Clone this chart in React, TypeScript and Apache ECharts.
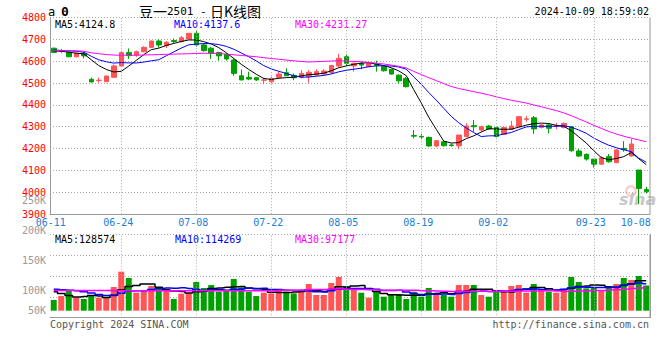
import React, { useEffect, useRef } from "react";
import * as echarts from "echarts";

const dates = [
  "06-11","06-12","06-13","06-14","06-17","06-18","06-19","06-20","06-21",
  "06-24","06-25","06-26","06-27","06-28",
  "07-01","07-02","07-03","07-04","07-05",
  "07-08","07-09","07-10","07-11","07-12",
  "07-15","07-16","07-17","07-18","07-19",
  "07-22","07-23","07-24","07-25","07-26",
  "07-29","07-30","07-31","08-01","08-02",
  "08-05","08-06","08-07","08-08","08-09",
  "08-12","08-13","08-14","08-15","08-16",
  "08-19","08-20","08-21","08-22","08-23",
  "08-26","08-27","08-28","08-29","08-30",
  "09-02","09-03","09-04","09-05","09-06",
  "09-09","09-10","09-11","09-12","09-13",
  "09-18","09-19","09-20",
  "09-23","09-24","09-25","09-26","09-27",
  "09-30","10-08","10-09",
];

const labelDates = ["06-11","06-24","07-08","07-22","08-05","08-19","09-02","09-23","10-08"];
const gridDates = ["06-24","07-08","07-22","08-05","08-19","09-02","09-23"];

const opens = [4659,4645,4640,4620,4635,4517,4511,4506,4526,4578,
4639,4628,4643,4663,4692,4671,4694,4689,4701,4727,
4674,4659,4639,4631,4605,4533,4526,4524,4513,4506,
4526,4547,4535,4526,4529,4537,4541,4548,4578,4620,
4578,4590,4575,4587,4575,4562,4536,4521,4260,4256,
4251,4212,4231,4217,4213,4255,4305,4285,4303,4296,
4265,4288,4300,4334,4341,4297,4308,4303,4297,4300,
4189,4174,4152,4129,4163,4136,4201,4166,4102,4013];

const closes = [4640,4647,4620,4636,4624,4505,4513,4532,4578,4639,
4625,4643,4663,4692,4674,4686,4690,4707,4727,4674,
4648,4636,4624,4610,4544,4514,4518,4514,4514,4521,
4541,4533,4524,4544,4549,4552,4555,4580,4613,4590,
4590,4582,4590,4580,4556,4541,4510,4483,4257,4253,
4212,4236,4213,4214,4262,4303,4300,4300,4290,4255,
4296,4303,4346,4336,4290,4308,4293,4305,4315,4190,
4166,4152,4129,4158,4140,4194,4196,4221,4018,4003];

const lows = [4637,4636,4618,4617,4613,4502,4502,4505,4524,4576,
4610,4620,4640,4660,4662,4660,4682,4686,4700,4666,
4643,4610,4602,4602,4533,4513,4513,4510,4494,4498,
4521,4533,4513,4521,4501,4534,4538,4541,4572,4575,
4552,4563,4572,4552,4552,4538,4498,4480,4247,4242,
4209,4206,4210,4209,4197,4252,4277,4278,4286,4252,
4262,4286,4298,4323,4267,4292,4270,4288,4292,4186,
4162,4145,4113,4125,4136,4133,4186,4163,3946,3995];

const highs = [4662,4656,4645,4640,4643,4525,4525,4533,4585,4648,
4658,4648,4668,4694,4699,4692,4704,4715,4729,4738,
4681,4666,4643,4636,4613,4562,4552,4528,4524,4529,
4552,4567,4544,4559,4559,4563,4563,4583,4633,4633,
4593,4597,4594,4602,4580,4566,4540,4528,4285,4267,
4255,4239,4234,4224,4262,4316,4331,4305,4308,4300,
4298,4327,4349,4349,4349,4312,4315,4318,4320,4300,
4198,4178,4152,4165,4175,4198,4234,4244,4102,4025];

const volumes = [44900,61700,87000,54700,49100,66000,54700,54700,99600,164200,
137500,75800,82800,103800,94000,82800,49100,71600,73000,120700,
95400,108100,80000,87000,133300,98200,80000,61700,75800,73000,
89800,80000,73000,87000,112300,66000,66000,116500,141700,103800,
89800,75800,54700,80000,58900,66000,70200,49100,80000,58900,
95400,75800,66000,58900,108100,108100,108100,66000,58900,80000,
87000,103800,108100,75800,112300,87000,80000,75800,89800,141700,
120700,94000,96800,82800,103800,112300,137500,129100,145900,106000];

// moving-average values before a full window exists
const ma5Head = [4647, 4645, 4641, 4636];
const ma10Head = [4651, 4649, 4647, 4645, 4641, 4622, 4606, 4597, 4591];
const ma30Head = [4648,4648,4648,4647,4645,4638,4634,4630,4628,4627,4627,4627,4628,4629,4630,
  4631,4632,4633,4634,4635,4636,4636,4635,4632,4629,4626,4623,4620,4616];
const volMa5Head = [80000, 72000, 64000, 58000];
const volMa10Head = [90000, 88000, 86000, 84000, 80000, 74000, 68000, 64000, 64000];
const volMa30Head = [85000,85000,85000,85000,85000,85000,85000,84500,84500,84000,84000,84000,84000,84000,84000,
  84000,84000,84000,84000,84000,84000,84000,84000,84000,84000,84000,84000,84000,84000];

const priceLegend = ["MA5:4124.8", "MA10:4137.6", "MA30:4231.27"];
const volLegend = ["MA5:128574", "MA10:114269", "MA30:97177"];
const volTickLabels = ["250K", "200K", "150K", "100K", "50K"];

const RED = "#ff5555";
const GREEN = "#00a000";
const MONO = "'DejaVu Sans Mono', monospace";
const CJK = "'Noto Sans CJK SC', sans-serif";

function movingAvg(values: number[], n: number, head: number[]) {
  return values.map((_, i) => {
    if (i < n - 1) return head[i];
    let s = 0;
    for (let j = i - n + 1; j <= i; j++) s += values[j];
    return Math.round((s / n) * 100) / 100;
  });
}

export default function App() {
  const ref = useRef<HTMLDivElement>(null);
  useEffect(() => {
    if (!ref.current) return;
    const chart = echarts.init(ref.current, null, { renderer: "svg" });
    const candleData = dates.map((_, i) => [opens[i], closes[i], lows[i], highs[i]]);
    const volData = volumes.map((v, i) => ({
      value: v,
      itemStyle: { color: closes[i] >= opens[i] ? RED : GREEN },
    }));
    const dotted = { color: "#aaa", type: [1, 2] as any, width: 1 };
    const axisLineStyle = { color: "#999", width: 1 };
    const vMark = {
      silent: true,
      symbol: ["none", "none"],
      label: { show: false },
      lineStyle: dotted,
      emphasis: { disabled: true },
      data: gridDates.map((d) => ({ xAxis: d })),
    };
    const T = (text: string, x: number, y: number, fill: string, font: string, align = "left") => ({
      type: "text",
      x,
      y,
      silent: true,
      style: { text, fill, font, align, verticalAlign: "middle", textAlign: align, textVerticalAlign: "middle" },
    });
    const font10 = `10px ${MONO}`;
    const option: any = {
      animation: false,
      backgroundColor: "#fff",
      grid: [
        { left: 50, top: 17.4, width: 600, height: 196.8 },
        { left: 50, top: 234.3, width: 600, height: 83.4 },
      ],
      xAxis: [
        {
          type: "category",
          data: dates,
          gridIndex: 0,
          boundaryGap: true,
          axisLine: { onZero: false, lineStyle: axisLineStyle },
          axisTick: { show: false },
          splitLine: { show: false },
          axisLabel: {
            interval: (i: number) => labelDates.indexOf(dates[i]) >= 0,
            color: "#1a80d6",
            fontSize: 10,
            fontFamily: MONO,
            margin: 3,
            padding: [0, 6, 0, 0],
          },
        },
        {
          type: "category",
          data: dates,
          gridIndex: 1,
          boundaryGap: true,
          axisLine: { onZero: false, lineStyle: axisLineStyle },
          axisTick: { show: false },
          axisLabel: { show: false },
          splitLine: { show: false },
        },
      ],
      yAxis: [
        {
          type: "value",
          gridIndex: 0,
          min: 3900,
          max: 4800,
          interval: 100,
          axisLine: { show: true, lineStyle: axisLineStyle },
          axisTick: { show: false },
          axisLabel: {
            color: "#ff0000",
            fontSize: 10,
            fontFamily: MONO,
            margin: 4,
            formatter: (v: number) => String(v),
          },
          splitLine: { show: true, lineStyle: dotted },
        },
        {
          type: "value",
          gridIndex: 1,
          min: -29500,
          max: 321500,
          show: false,
          splitLine: { show: false },
        },
        {
          type: "value",
          gridIndex: 1,
          min: 0,
          max: 4,
          interval: 1,
          axisLine: { show: true, lineStyle: axisLineStyle },
          axisTick: { show: false },
          axisLabel: { show: false },
          splitLine: { show: true, lineStyle: dotted },
        },
      ],
      series: [
        {
          type: "candlestick",
          xAxisIndex: 0,
          yAxisIndex: 0,
          data: candleData,
          barWidth: 5,
          itemStyle: { color: RED, color0: GREEN, borderColor: RED, borderColor0: GREEN, borderWidth: 1 },
          markLine: vMark,
          z: 3,
        },
        {
          type: "line", xAxisIndex: 0, yAxisIndex: 0, showSymbol: false, symbol: "none",
          data: movingAvg(closes, 5, ma5Head), lineStyle: { color: "#000", width: 1 }, z: 4,
        },
        {
          type: "line", xAxisIndex: 0, yAxisIndex: 0, showSymbol: false, symbol: "none",
          data: movingAvg(closes, 10, ma10Head), lineStyle: { color: "#0000ff", width: 1 }, z: 4,
        },
        {
          type: "line", xAxisIndex: 0, yAxisIndex: 0, showSymbol: false, symbol: "none",
          data: movingAvg(closes, 30, ma30Head), lineStyle: { color: "#ff00ff", width: 1 }, z: 4,
        },
        {
          type: "bar",
          xAxisIndex: 1,
          yAxisIndex: 1,
          data: volData,
          barWidth: 6,
          markLine: vMark,
          z: 3,
        },
        {
          type: "line", xAxisIndex: 1, yAxisIndex: 1, showSymbol: false, symbol: "none", step: "middle",
          data: movingAvg(volumes, 5, volMa5Head), lineStyle: { color: "#000", width: 1.5 }, z: 4,
        },
        {
          type: "line", xAxisIndex: 1, yAxisIndex: 1, showSymbol: false, symbol: "none", step: "middle",
          data: movingAvg(volumes, 10, volMa10Head), lineStyle: { color: "#0000ff", width: 1.5 }, z: 4,
        },
        {
          type: "line", xAxisIndex: 1, yAxisIndex: 1, showSymbol: false, symbol: "none", step: "middle",
          data: movingAvg(volumes, 30, volMa30Head), lineStyle: { color: "#ff00ff", width: 1.5 }, z: 4,
        },
      ],
      graphic: [
        { type: "line", silent: true, shape: { x1: 650, y1: 17.4, x2: 650, y2: 214.2 }, style: { stroke: "#999", lineWidth: 1 } },
        { type: "line", silent: true, shape: { x1: 650, y1: 234.3, x2: 650, y2: 317.7 }, style: { stroke: "#999", lineWidth: 1 } },
        T("a", 48, 11.5, "#000", `12px ${MONO}`),
        T("0", 61, 11, "#000", `bold 13px ${MONO}`),
        T("豆一", 139, 10.5, "#000", `14px ${CJK}`),
        T("2501 - ", 167, 11, "#000", `11px ${MONO}`),
        T("日K线图", 210, 10.5, "#000", `14px ${CJK}`),
        T("2024-10-09 18:59:02", 649, 11.5, "#000", font10, "right"),
        T(priceLegend[0], 55, 24, "#000", font10),
        T(priceLegend[1], 174, 24, "#0000ff", font10),
        T(priceLegend[2], 295, 24, "#ff00ff", font10),
        T(volLegend[0], 55, 239.5, "#000", font10),
        T(volLegend[1], 175, 239.5, "#0000ff", font10),
        T(volLegend[2], 295, 239.5, "#ff00ff", font10),
        T(volTickLabels[0], 46, 200.5, "#999", font10, "right"),
        T(volTickLabels[1], 46, 230.7, "#999", font10, "right"),
        T(volTickLabels[2], 46, 260.7, "#999", font10, "right"),
        T(volTickLabels[3], 46, 290, "#999", font10, "right"),
        T(volTickLabels[4], 46, 310, "#999", font10, "right"),
        T("Copyright 2024 SINA.COM", 50, 324, "#555", font10),
        T("http://finance.sina.com.cn", 649, 324, "#555", font10, "right"),
        { type: "ring", silent: true, shape: { cx: 631, cy: 191, r: 6, r0: 3.5 }, style: { fill: "rgba(240,120,120,0.35)" } },
        T("sina", 619, 199, "rgba(150,150,150,0.55)", `italic bold 16px 'DejaVu Sans', sans-serif`),
      ],
    };
    chart.setOption(option);
    return () => chart.dispose();
  }, []);
  return (
    <div
      ref={ref}
      style={{ position: "fixed", left: 0, top: 0, width: 660, height: 360, background: "#fff" }}
    />
  );
}
